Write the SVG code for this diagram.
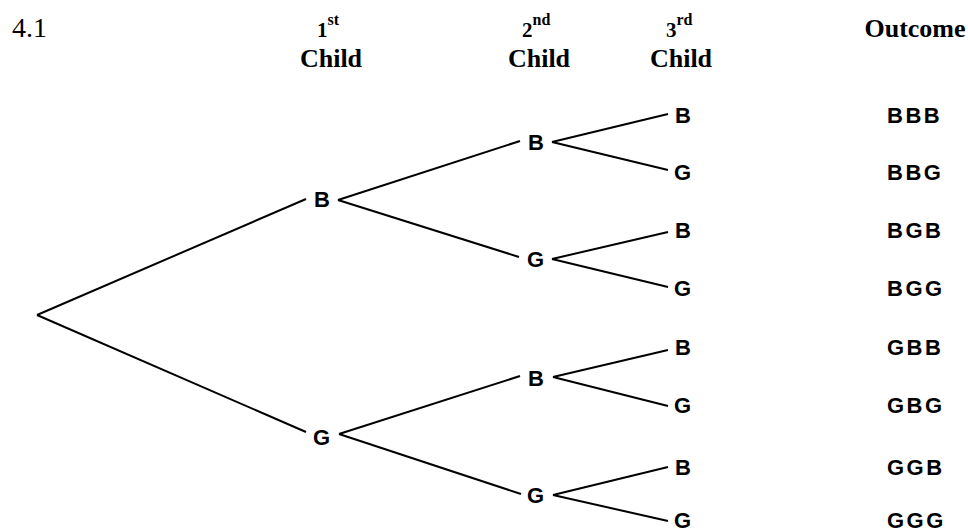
<svg xmlns="http://www.w3.org/2000/svg" width="968" height="532" viewBox="0 0 968 532">
  <style>
    .hdr { font-family: "Liberation Serif", "Times New Roman", serif; font-weight: bold; font-size: 26px; fill: #000; }
    .num { font-family: "Liberation Serif", "Times New Roman", serif; font-weight: bold; font-size: 21px; fill: #000; }
    .sup { font-family: "Liberation Serif", "Times New Roman", serif; font-weight: bold; font-size: 16px; fill: #000; }
    .qn { font-family: "Liberation Serif", "Times New Roman", serif; font-size: 28px; fill: #000; }
    .lbl { font-family: "Liberation Sans", Arial, sans-serif; font-weight: bold; font-size: 22px; fill: #000; }
    .out { font-family: "Liberation Sans", Arial, sans-serif; font-weight: bold; font-size: 22px; letter-spacing: 2.5px; fill: #000; }
    .edge { stroke: #000; stroke-width: 2; fill: none; stroke-linecap: butt; }
  </style>
  <rect width="968" height="532" fill="#fff"/>

  <!-- headings -->
  <g id="headings">
    <text class="qn" x="12" y="37">4.1</text>
    <text x="317" y="37"><tspan class="num">1</tspan><tspan class="sup" dy="-12">st</tspan></text>
    <text class="hdr" x="331" y="67" text-anchor="middle">Child</text>
    <text x="522" y="37"><tspan class="num">2</tspan><tspan class="sup" dy="-12">nd</tspan></text>
    <text class="hdr" x="539" y="67" text-anchor="middle">Child</text>
    <text x="666" y="37"><tspan class="num">3</tspan><tspan class="sup" dy="-12">rd</tspan></text>
    <text class="hdr" x="681" y="67" text-anchor="middle">Child</text>
    <text class="hdr" x="915" y="37" text-anchor="middle">Outcome</text>
  </g>

  <!-- branches -->
  <g id="connectors">
    <line class="edge" x1="37" y1="315" x2="306" y2="199"/>
    <line class="edge" x1="37" y1="315" x2="306" y2="432"/>
    <line class="edge" x1="338" y1="200" x2="520" y2="141"/>
    <line class="edge" x1="338" y1="200" x2="519" y2="257"/>
    <line class="edge" x1="339" y1="434" x2="520" y2="376"/>
    <line class="edge" x1="339" y1="434" x2="521" y2="494"/>
    <line class="edge" x1="552" y1="142" x2="668" y2="114"/>
    <line class="edge" x1="552" y1="142" x2="668" y2="170"/>
    <line class="edge" x1="552" y1="259" x2="668" y2="232"/>
    <line class="edge" x1="552" y1="259" x2="668" y2="287"/>
    <line class="edge" x1="553" y1="377" x2="668" y2="350"/>
    <line class="edge" x1="553" y1="377" x2="668" y2="406"/>
    <line class="edge" x1="553" y1="495" x2="668" y2="467"/>
    <line class="edge" x1="553" y1="495" x2="668" y2="521"/>
  </g>

  <!-- first child -->
  <g id="n1-B"><text class="lbl" x="314" y="207">B</text></g>
  <g id="n1-G"><text class="lbl" x="313" y="445">G</text></g>

  <!-- second child -->
  <g id="n2-BB"><text class="lbl" x="528" y="150">B</text></g>
  <g id="n2-BG"><text class="lbl" x="527" y="267">G</text></g>
  <g id="n2-GB"><text class="lbl" x="528" y="386">B</text></g>
  <g id="n2-GG"><text class="lbl" x="527" y="503">G</text></g>

  <!-- third child -->
  <g id="n3-BBB"><text class="lbl" x="675" y="123">B</text></g>
  <g id="n3-BBG"><text class="lbl" x="674" y="180">G</text></g>
  <g id="n3-BGB"><text class="lbl" x="675" y="238">B</text></g>
  <g id="n3-BGG"><text class="lbl" x="674" y="296">G</text></g>
  <g id="n3-GBB"><text class="lbl" x="675" y="355">B</text></g>
  <g id="n3-GBG"><text class="lbl" x="674" y="413">G</text></g>
  <g id="n3-GGB"><text class="lbl" x="675" y="475">B</text></g>
  <g id="n3-GGG"><text class="lbl" x="674" y="528">G</text></g>

  <!-- outcomes -->
  <g id="outcomes">
    <text class="out" x="887" y="123">BBB</text>
    <text class="out" x="887" y="180">BBG</text>
    <text class="out" x="887" y="238">BGB</text>
    <text class="out" x="887" y="296">BGG</text>
    <text class="out" x="887" y="355">GBB</text>
    <text class="out" x="887" y="413">GBG</text>
    <text class="out" x="887" y="475">GGB</text>
    <text class="out" x="887" y="528">GGG</text>
  </g>
</svg>
